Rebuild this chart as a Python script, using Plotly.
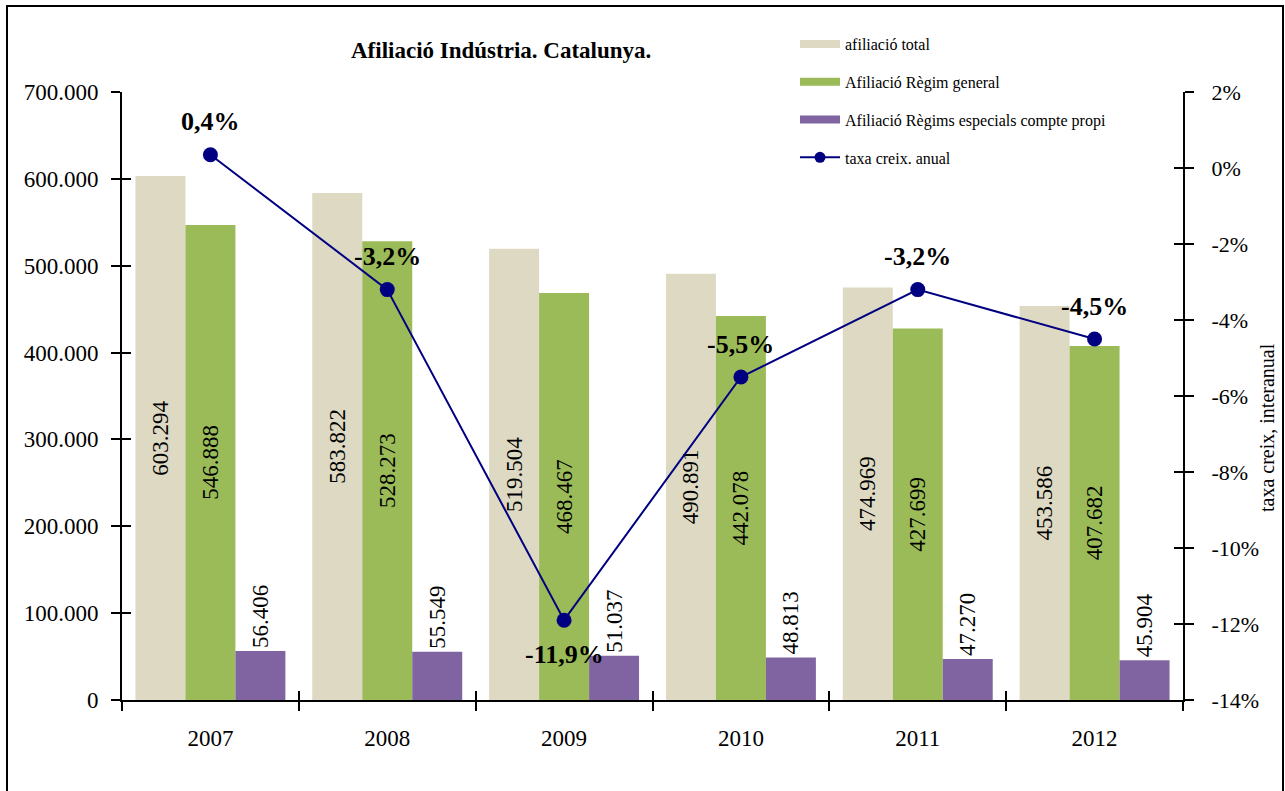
import plotly.graph_objects as go

years = ["2007", "2008", "2009", "2010", "2011", "2012"]
afiliacio_total = [603294, 583822, 519504, 490891, 474969, 453586]
regim_general = [546888, 528273, 468467, 442078, 427699, 407682]
regims_especials = [56406, 55549, 51037, 48813, 47270, 45904]
taxa_creix = [0.35, -3.2, -11.9, -5.5, -3.2, -4.5]
taxa_labels = ["0,4%", "-3,2%", "-11,9%", "-5,5%", "-3,2%", "-4,5%"]
taxa_label_pos = ["above", "above", "below", "above", "above", "above"]

left_ticks = [0, 100000, 200000, 300000, 400000, 500000, 600000, 700000]
right_ticks = [-14, -12, -10, -8, -6, -4, -2, 0, 2]
right_tick_text = ["-14%", "-12%", "-10%", "-8%", "-6%", "-4%", "-2%", "0%", "2%"]

FONT = "Liberation Serif"
C_TOTAL = "#DDD9C3"
C_GEN = "#9BBB59"
C_ESP = "#8064A2"
C_LINE = "#000080"

fig = go.Figure()

bar_text_font = dict(family=FONT, size=23, color="black")
fig.add_trace(go.Bar(x=years, y=afiliacio_total, marker_color=C_TOTAL, name="afiliació total",
                     texttemplate="%{y:,.0f}", textposition="inside", insidetextanchor="middle",
                     textangle=-90, textfont=bar_text_font, showlegend=False, marker_line_width=0))
fig.add_trace(go.Bar(x=years, y=regim_general, marker_color=C_GEN, name="Afiliació Règim general",
                     texttemplate="%{y:,.0f}", textposition="inside", insidetextanchor="middle",
                     textangle=-90, textfont=bar_text_font, showlegend=False, marker_line_width=0))
fig.add_trace(go.Bar(x=years, y=regims_especials, marker_color=C_ESP,
                     name="Afiliació Règims especials compte propi",
                     texttemplate="%{y:,.0f}", textposition="outside", constraintext="none",
                     textangle=-90, textfont=bar_text_font, showlegend=False, marker_line_width=0,
                     cliponaxis=False))

fig.add_trace(go.Scatter(x=years, y=taxa_creix, yaxis="y2", mode="lines+markers",
                         line=dict(color=C_LINE, width=2), marker=dict(size=15, color=C_LINE),
                         name="taxa creix. anual", showlegend=False, cliponaxis=False))

# legend entries (Excel-like wide bar symbols)
for i, (nm, col) in enumerate([("afiliació total", C_TOTAL), ("Afiliació Règim general", C_GEN),
                                ("Afiliació Règims especials compte propi", C_ESP)]):
    fig.add_trace(go.Scatter(x=[None], y=[None], mode="lines", line=dict(color=col, width=8),
                             name=nm, legendgroup=f"g{i}", showlegend=True, hoverinfo="skip"))
fig.add_trace(go.Scatter(x=[None], y=[None], mode="lines+markers", line=dict(color=C_LINE, width=2),
                         marker=dict(size=11, color=C_LINE), name="taxa creix. anual",
                         legendgroup="g3", showlegend=True, hoverinfo="skip"))

# empty helper traces so that the inside-tick overlay axes get drawn
fig.add_trace(go.Scatter(x=[None], y=[None], xaxis="x2", yaxis="y", showlegend=False, hoverinfo="skip"))
fig.add_trace(go.Scatter(x=[None], y=[None], xaxis="x", yaxis="y3", showlegend=False, hoverinfo="skip"))
fig.add_trace(go.Scatter(x=[None], y=[None], xaxis="x", yaxis="y4", showlegend=False, hoverinfo="skip"))

L, R, T, B = 122, 102, 92, 91
W, H = 1285, 791
pw, ph = W - L - R, H - T - B

annotations = []
for i, (v, lab, pos) in enumerate(zip(taxa_creix, taxa_labels, taxa_label_pos)):
    annotations.append(dict(x=i, y=v, xref="x", yref="y2", text=f"<b>{lab}</b>", showarrow=False,
                            yshift=33 if pos == "above" else -34,
                            font=dict(family=FONT, size=26, color="black")))
annotations.append(dict(x=(1267 - L) / pw, y=(H - B - 428) / ph, xref="paper", yref="paper",
                        xanchor="center", yanchor="middle",
                        text="taxa creix, interanual", textangle=-90, showarrow=False,
                        font=dict(family=FONT, size=20, color="black")))
annotations.append(dict(x=(501 - L) / pw, y=(H - B - 50) / ph, xref="paper", yref="paper",
                        text="<b>Afiliació Indústria. Catalunya.</b>", showarrow=False,
                        xanchor="center", yanchor="middle",
                        font=dict(family=FONT, size=23, color="black")))

shapes = [dict(type="rect", xref="paper", yref="paper",
               x0=(7 - L) / pw, x1=(1283 - L) / pw, y0=(H - B - 800) / ph, y1=(H - B - 6) / ph,
               line=dict(color="black", width=2), fillcolor="rgba(0,0,0,0)", layer="below")]

axis_common = dict(showgrid=False, zeroline=False, linecolor="black", linewidth=2,
                   tickcolor="black", tickwidth=2, ticklen=9)
inside_common = dict(ticks="inside", showticklabels=False, showline=False, showgrid=False,
                     zeroline=False, tickcolor="black", tickwidth=2, ticklen=9)

fig.update_layout(
    width=W, height=H,
    margin=dict(l=L, r=R, t=T, b=B, autoexpand=False),
    paper_bgcolor="white", plot_bgcolor="white",
    separators=",.",
    barmode="group", bargap=0.152, bargroupgap=0,
    font=dict(family=FONT, size=23, color="black"),
    xaxis=dict(type="category", categoryorder="array", categoryarray=years,
               ticks="outside", tickson="boundaries", showline=True, tickangle=0,
               ticklabelstandoff=16,
               tickfont=dict(family=FONT, size=23), **axis_common),
    xaxis2=dict(overlaying="x", anchor="y", side="bottom", range=[-0.5, 5.5],
                tickvals=[-0.5, 0.5, 1.5, 2.5, 3.5, 4.5, 5.5], **inside_common),
    yaxis=dict(range=[0, 700000], tickvals=left_ticks, tickformat=",.0f", ticks="outside", showline=True,
               ticklabelstandoff=8,
               tickfont=dict(family=FONT, size=23), **axis_common),
    yaxis2=dict(range=[-14, 2], tickvals=right_ticks, ticktext=right_tick_text, overlaying="y",
                side="right", anchor="x", ticks="outside", showline=True, ticklabelstandoff=13,
                tickfont=dict(family=FONT, size=22), **axis_common),
    yaxis3=dict(range=[0, 700000], tickvals=left_ticks, overlaying="y", side="left", anchor="x",
                **inside_common),
    yaxis4=dict(range=[-14, 2], tickvals=right_ticks, overlaying="y", side="right", anchor="x",
                **inside_common),
    legend=dict(x=(795 - L) / pw, y=(H - B - 27) / ph, xanchor="left", yanchor="top",
                font=dict(family=FONT, size=16, color="black"), tracegroupgap=14,
                bgcolor="rgba(0,0,0,0)", itemwidth=40),
    annotations=annotations,
    shapes=shapes,
    showlegend=True,
)

fig.write_html("out.html", config={"displayModeBar": False},
               post_script="document.body.style.margin='0';")
